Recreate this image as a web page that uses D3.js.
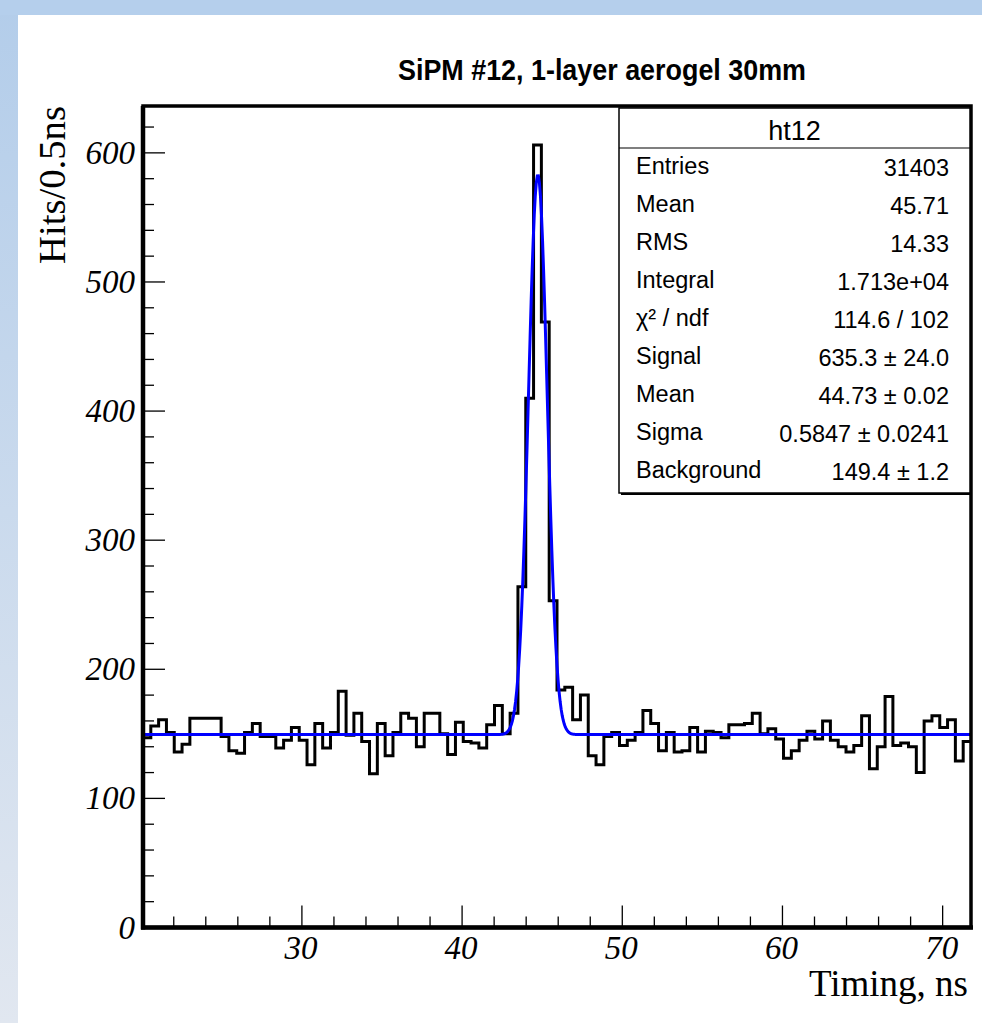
<!DOCTYPE html>
<html>
<head>
<meta charset="utf-8">
<script src="https://cdn.jsdelivr.net/npm/d3@7"></script>
<style>
  html, body { margin: 0; padding: 0; background: #ffffff; }
  svg { display: block; }
</style>
</head>
<body>
<svg id="chart" width="982" height="1023"></svg>
<script>
// ---------------- DATA ----------------
const chartTitle = "SiPM #12, 1-layer aerogel 30mm";
const xAxisTitle = "Timing, ns";
const yAxisTitle = "Hits/0.5ns";
const histName = "ht12";

// histogram range (ns) and bin contents (106 bins)
const histRange = [20.08, 71.77];
const counts = [
  147, 156, 161, 151, 136, 142, 162, 162, 162, 162,
  148, 137, 135, 151, 158, 148, 148, 139, 145, 155,
  145, 126, 158, 139, 151, 183, 149, 166, 144, 119,
  158, 133, 151, 166, 162, 140, 166, 166, 150, 134,
  159, 144, 143, 139, 157, 172, 150, 166, 264, 410,
  606, 469, 253, 184, 186, 161, 180, 133, 126, 148,
  151, 141, 145, 151, 168, 158, 137, 151, 136, 137,
  155, 136, 152, 151, 147, 157, 157, 158, 166, 150,
  154, 146, 131, 137, 145, 152, 146, 160, 145, 140,
  136, 141, 164, 123, 140, 179, 141, 143, 140, 120,
  160, 164, 155, 161, 129, 144
];

// fit parameters (gaussian signal + flat background) as printed in the stats box
const fitSignal = 635.3;
const fitMean = 44.73;
const fitSigma = 0.5847;
const fitBackground = 149.4;

// axes
const yMax = 636.3;
const xMajorTicks = [30, 40, 50, 60, 70];
const xMinorTicks = [22, 24, 26, 28, 32, 34, 36, 38, 42, 44, 46, 48, 52, 54, 56, 58, 62, 64, 66, 68];
const yMajorTicks = [0, 100, 200, 300, 400, 500, 600];
const yMinorTicks = [20, 40, 60, 80, 120, 140, 160, 180, 220, 240, 260, 280, 320, 340, 360, 380,
                     420, 440, 460, 480, 520, 540, 560, 580, 620];

// stats box
const statLabels = ["Entries", "Mean", "RMS", "Integral", "\u03C7\u00B2 / ndf", "Signal", "Mean", "Sigma", "Background"];
const statValues = ["31403", "45.71", "14.33", "1.713e+04", "114.6 / 102", "635.3 \u00B1 24.0", "44.73 \u00B1 0.02", "0.5847 \u00B1 0.0241", "149.4 \u00B1 1.2"];

// ---------------- DRAW ----------------
const svg = d3.select("#chart");
const W = 982, H = 1023;
const frame = { left: 143, right: 971, top: 106, bottom: 927.5 };

// page background (slide-like blue border with gradient)
const defs = svg.append("defs");
const grad = defs.append("linearGradient").attr("id", "leftGrad")
  .attr("x1", 0).attr("y1", 0).attr("x2", 0).attr("y2", 1);
grad.append("stop").attr("offset", "0%").attr("stop-color", "#b3cdea");
grad.append("stop").attr("offset", "100%").attr("stop-color", "#e1e7f0");
svg.append("rect").attr("x", 0).attr("y", 0).attr("width", W).attr("height", H).attr("fill", "#ffffff");
svg.append("rect").attr("x", 0).attr("y", 0).attr("width", 18).attr("height", H).attr("fill", "url(#leftGrad)");
svg.append("rect").attr("x", 0).attr("y", 0).attr("width", W).attr("height", 15).attr("fill", "#b5cfec");

const x = d3.scaleLinear().domain(histRange).range([frame.left, frame.right]);
const y = d3.scaleLinear().domain([0, yMax]).range([frame.bottom, frame.top]);

const nBins = counts.length;
const binW = (histRange[1] - histRange[0]) / nBins;
const edges = d3.range(nBins + 1).map(i => histRange[0] + i * binW);

const plot = svg.append("g");

// clip for plot content
defs.append("clipPath").attr("id", "plotClip").append("rect")
  .attr("x", frame.left).attr("y", frame.top)
  .attr("width", frame.right - frame.left).attr("height", frame.bottom - frame.top);

// histogram step line
const stepPts = [];
counts.forEach((c, i) => {
  stepPts.push([edges[i], c]);
  stepPts.push([edges[i + 1], c]);
});
const stepLine = d3.line().x(d => x(d[0])).y(d => y(d[1]));
plot.append("path")
  .attr("clip-path", "url(#plotClip)")
  .attr("d", stepLine(stepPts))
  .attr("fill", "none")
  .attr("stroke", "#000")
  .attr("stroke-width", 3)
  .attr("stroke-linejoin", "miter");

// fit function
const amp = fitSignal / (Math.sqrt(2 * Math.PI) * fitSigma);
const fitFn = t => fitBackground + amp * Math.exp(-0.5 * Math.pow((t - fitMean) / fitSigma, 2));
const fitX = d3.range(0, 801).map(i => histRange[0] + (histRange[1] - histRange[0]) * i / 800);
plot.append("path")
  .attr("clip-path", "url(#plotClip)")
  .attr("d", d3.line().x(t => x(t)).y(t => y(fitFn(t)))(fitX))
  .attr("fill", "none")
  .attr("stroke", "#0000ff")
  .attr("stroke-width", 3);

// ticks (inward)
const axes = svg.append("g").attr("stroke", "#000");
xMajorTicks.forEach(v => axes.append("line")
  .attr("x1", x(v)).attr("x2", x(v)).attr("y1", frame.bottom).attr("y2", frame.bottom - 22).attr("stroke-width", 1.3));
xMinorTicks.forEach(v => axes.append("line")
  .attr("x1", x(v)).attr("x2", x(v)).attr("y1", frame.bottom).attr("y2", frame.bottom - 11).attr("stroke-width", 1.3));
yMajorTicks.forEach(v => axes.append("line")
  .attr("x1", frame.left).attr("x2", frame.left + 22).attr("y1", y(v)).attr("y2", y(v)).attr("stroke-width", 1.3));
yMinorTicks.forEach(v => axes.append("line")
  .attr("x1", frame.left).attr("x2", frame.left + 11).attr("y1", y(v)).attr("y2", y(v)).attr("stroke-width", 1.3));

// frame
svg.append("rect")
  .attr("x", frame.left).attr("y", frame.top)
  .attr("width", frame.right - frame.left).attr("height", frame.bottom - frame.top)
  .attr("fill", "none").attr("stroke", "#000").attr("stroke-width", 3.5);
svg.append("line").attr("x1", frame.left).attr("x2", frame.left)
  .attr("y1", frame.top).attr("y2", frame.bottom + 2).attr("stroke", "#000").attr("stroke-width", 4.5);
svg.append("line").attr("x1", frame.left - 2).attr("x2", frame.right + 2)
  .attr("y1", frame.bottom).attr("y2", frame.bottom).attr("stroke", "#000").attr("stroke-width", 4.5);

// tick labels
const serif = "'Liberation Serif', 'Times New Roman', serif";
const sans = "'Liberation Sans', Arial, Helvetica, sans-serif";
svg.append("g").selectAll("text").data(xMajorTicks).join("text")
  .attr("x", d => x(d) - 1).attr("y", 959)
  .attr("text-anchor", "middle")
  .attr("font-family", serif).attr("font-style", "italic").attr("font-size", 33)
  .attr("fill", "#000")
  .text(d => d);
svg.append("g").selectAll("text").data(yMajorTicks).join("text")
  .attr("x", 135).attr("y", d => y(d) + 11)
  .attr("text-anchor", "end")
  .attr("font-family", serif).attr("font-style", "italic").attr("font-size", 33)
  .attr("fill", "#000")
  .text(d => d);

// axis titles
svg.append("text")
  .attr("x", 968).attr("y", 996)
  .attr("text-anchor", "end")
  .attr("font-family", serif).attr("font-size", 37)
  .attr("fill", "#000")
  .text(xAxisTitle);
svg.append("text")
  .attr("transform", "translate(65,106) rotate(-90)")
  .attr("text-anchor", "end")
  .attr("font-family", serif).attr("font-size", 37)
  .attr("fill", "#000")
  .attr("textLength", 158).attr("lengthAdjust", "spacingAndGlyphs")
  .text(yAxisTitle);

// main title
svg.append("text")
  .attr("x", 602).attr("y", 80)
  .attr("text-anchor", "middle")
  .attr("font-family", sans).attr("font-weight", "bold").attr("font-size", 29.5)
  .attr("textLength", 408).attr("lengthAdjust", "spacingAndGlyphs")
  .attr("fill", "#000")
  .text(chartTitle);

// stats box
const box = { left: 619, right: 970, top: 108, bottom: 493, header: 148 };
const sb = svg.append("g");
sb.append("rect")
  .attr("x", box.left + 2).attr("y", box.top + 2)
  .attr("width", box.right - box.left).attr("height", box.bottom - box.top)
  .attr("fill", "#000");
sb.append("rect")
  .attr("x", box.left).attr("y", box.top)
  .attr("width", box.right - box.left).attr("height", box.bottom - box.top)
  .attr("fill", "#fff").attr("stroke", "#000").attr("stroke-width", 1.5);
sb.append("line")
  .attr("x1", box.left).attr("x2", box.right).attr("y1", box.header).attr("y2", box.header)
  .attr("stroke", "#000").attr("stroke-width", 1.2);
sb.append("text")
  .attr("x", (box.left + box.right) / 2).attr("y", 140)
  .attr("text-anchor", "middle")
  .attr("font-family", sans).attr("font-size", 27)
  .attr("fill", "#000")
  .text(histName);
const rowStep = 38.04;
sb.append("g").selectAll("text").data(statLabels).join("text")
  .attr("x", 636).attr("y", (d, i) => 174 + i * rowStep)
  .attr("font-family", sans).attr("font-size", 23.5)
  .attr("fill", "#000")
  .text(d => d);
sb.append("g").selectAll("text").data(statValues).join("text")
  .attr("x", 949).attr("y", (d, i) => 176 + i * rowStep)
  .attr("text-anchor", "end")
  .attr("font-family", sans).attr("font-size", 23.5)
  .attr("fill", "#000")
  .text(d => d);
</script>
</body>
</html>
